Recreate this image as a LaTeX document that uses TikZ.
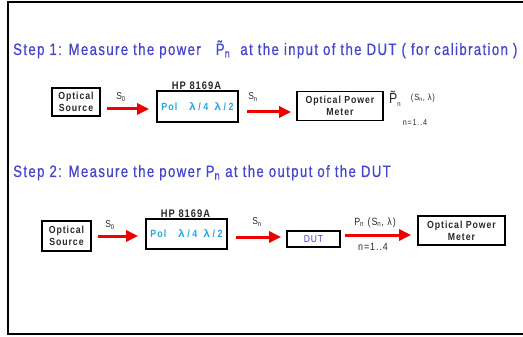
\documentclass[tikz,border=0pt]{standalone}
\usepackage{fontspec}
\setmainfont{Liberation Sans}
\newfontfamily\titlefont[FakeStretch=0.8,LetterSpace=8.3,FakeBold=0.6]{Liberation Sans}
\newfontfamily\boxfont[FakeStretch=0.85,LetterSpace=9]{Liberation Sans}
\usetikzlibrary{arrows.meta}
\definecolor{ttlblue}{RGB}{68,68,204}
\definecolor{polblue}{RGB}{40,165,230}
\definecolor{arrred}{RGB}{240,0,0}
\definecolor{lblgray}{RGB}{40,40,40}
\newcommand{\lam}{\scalebox{1.35}[1]{λ}}
\newcommand{\poltext}{Pol\hspace{12pt}\lam\hspace{2.5pt}/\hspace{2.5pt}4\hspace{6pt}\lam\hspace{2.5pt}/\hspace{2.5pt}2}
\begin{document}
\begin{tikzpicture}[x=1pt,y=-1pt,
  box/.style={draw=black,line width=1.8pt,inner sep=0pt,align=center,
    font=\boxfont\bfseries\fontsize{10.3}{12}\selectfont,text=lblgray},
  poltxt/.style={text=polblue,font=\boxfont\bfseries\fontsize{10.5}{11}\selectfont},
  arr/.style={draw=arrred,line width=3pt,-{Triangle[length=12pt,width=11pt]}},
  lbl/.style={font=\boxfont\fontsize{10}{11}\selectfont,text=lblgray,inner sep=0pt},
  hp/.style={font=\boxfont\bfseries\fontsize{11}{12}\selectfont,text=lblgray,inner sep=0pt},
  ttl/.style={font=\titlefont\fontsize{16.5}{18}\selectfont,text=ttlblue,inner sep=0pt,anchor=base west}]
\useasboundingbox (0,0) rectangle (523,337);
\draw[line width=2pt] (530,2) -- (8,2) -- (8,334) -- (530,334);

% Step 1
\node[ttl] (t1) at (13,55) {Step 1: Measure the power \ \ \~{P}\textsubscript{n} \ at the input of the DUT ( for calibration )};
\node[box,minimum width=48pt,minimum height=28pt] (src1) at (76,102) {Optical\\Source};
\node[box,poltxt,minimum width=81pt,minimum height=31pt] (pol1) at (197.5,106.5) {\poltext};
\node[box,minimum width=86pt,minimum height=29pt] (opm1) at (340,106) {Optical Power\\Meter};
\node[hp] (hp1) at (196.5,85.5) {HP 8169A};
\node[lbl] (s01) at (121,97) {S\textsubscript{0}};
\node[lbl] (sn1) at (253,97) {S\textsubscript{n}};
\node[lbl,font=\boxfont\fontsize{14.5}{15}\selectfont,anchor=base west] (pt1) at (389,104) {\~{P}\textsubscript{\fontsize{7}{8}\selectfont n}};
\node[lbl,font=\boxfont\fontsize{9}{10}\selectfont] (psn1) at (423,98) {(S\textsubscript{n}, λ)};
\node[lbl,font=\boxfont\fontsize{8.5}{9}\selectfont] (nn1) at (415,123) {n=1..4};
\draw[arr,shorten <=6pt,shorten >=7pt] ([yshift=-7pt]src1.east) -- ([yshift=-7pt]src1.east -| pol1.west);
\draw[arr,shorten <=8pt,shorten >=5pt] ([yshift=-5.5pt]pol1.east) -- ([yshift=-5.5pt]pol1.east -| opm1.west);

% Step 2
\node[ttl] (t2) at (13,177) {Step 2: Measure the power P\textsubscript{n} at the output of the DUT};
\node[box,minimum width=49pt,minimum height=30pt] (src2) at (66.5,236) {Optical\\Source};
\node[box,poltxt,minimum width=81pt,minimum height=30pt] (pol2) at (186.5,234) {\poltext};
\node[box,minimum width=53pt,minimum height=16pt,text=ttlblue,font=\boxfont\fontsize{10}{11}\selectfont] (dut2) at (313.5,239) {DUT};
\node[box,minimum width=87pt,minimum height=29pt] (opm2) at (461.5,230.5) {Optical Power\\Meter};
\node[hp] (hp2) at (185.5,213.5) {HP 8169A};
\node[lbl] (s02) at (110,225) {S\textsubscript{0}};
\node[lbl] (sn2) at (257,222) {S\textsubscript{n}};
\node[lbl,font=\boxfont\fontsize{10.5}{11}\selectfont] (pn2) at (375,222.5) {P\textsubscript{n} (S\textsubscript{n}, λ)};
\node[lbl,font=\boxfont\fontsize{10.5}{11}\selectfont] (nn2) at (373,246.5) {n=1..4};
\draw[arr,shorten <=6pt,shorten >=7pt] (src2.east) -- (src2.east -| pol2.west);
\draw[arr,shorten <=8pt,shorten >=5pt] ([yshift=-3pt]pol2.east) -- ([yshift=-3pt]pol2.east -| dut2.west);
\draw[arr,shorten <=4pt,shorten >=6pt] ([yshift=4pt]dut2.east) -- ([yshift=4pt]dut2.east -| opm2.west);
\end{tikzpicture}
\end{document}
